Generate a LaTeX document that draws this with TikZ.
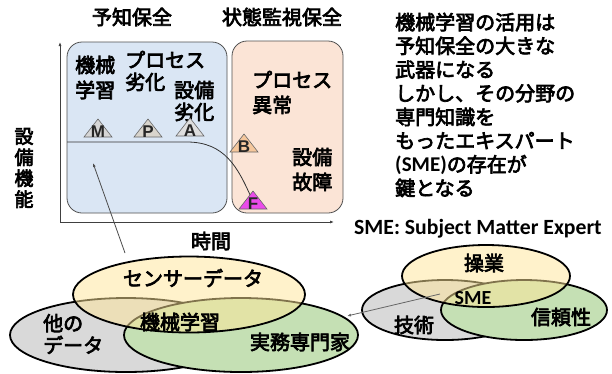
\documentclass[tikz,border=0pt]{standalone}
\usepackage{fontspec}
\newfontfamily\jp{Noto Sans CJK JP}[FakeBold=3.5]
\newfontfamily\lat{Carlito}
\newfontfamily\tril{Liberation Sans}
\usetikzlibrary{arrows.meta}
\definecolor{boxblue}{HTML}{DAE6F4}
\definecolor{boxorange}{HTML}{FBE4D6}
\definecolor{vyellow}{HTML}{FFE699}
\definecolor{vgray}{HTML}{D9D9D9}
\definecolor{vgreen}{HTML}{C5E0B4}
\definecolor{fmag}{HTML}{EA4AEA}
\definecolor{borange}{HTML}{F5C79C}
\definecolor{mgray}{HTML}{D6D6D6}
\definecolor{pgray}{HTML}{D8D4CC}
\definecolor{agray}{HTML}{DEDEDE}
\definecolor{edge}{HTML}{505050}
\newcommand{\mytri}[5]{%
  \filldraw[fill=#4, draw=gray!80!black, line width=0.6pt] ({#2-14},#3) -- (#2,{#3-18}) -- ({#2+14},#3) -- cycle;
  \node[triletter] (#1) at (#2,{#3-5.5}) {#5};}
\tikzset{
  jt/.style={font=\jp\fontsize{20}{25}\selectfont, inner sep=0pt, align=left},
  jtc/.style={font=\jp\fontsize{20}{25}\selectfont, inner sep=0pt, align=center},
  triletter/.style={font=\tril\bfseries\fontsize{17}{17}\selectfont, inner sep=0pt, text=black!85},
  regionbox/.style={draw=edge, line width=0.8pt, rounded corners=15pt},
  axisline/.style={draw=black!75, line width=0.8pt},
  vline/.style={draw=black, line width=1.8pt},
  pointer/.style={draw=black!70, line width=0.8pt, -{Latex[length=4pt,width=3pt]}},
}
\begin{document}
\begin{tikzpicture}[x=1pt,y=-1pt]
\useasboundingbox (0,0) rectangle (612,373);
\fill[white] (0,0) rectangle (612,373);

% titles
\node[jtc] (t1) at (132,17) {予知保全};
\node[jtc] (t2) at (282,17) {状態監視保全};

% region boxes
\draw[regionbox, fill=boxblue] (67,42) rectangle (227,213);
\draw[regionbox, fill=boxorange] (232,41) rectangle (343,213);

% axes
\draw[axisline, {Latex[length=4pt,width=3pt]}-{Latex[length=4pt,width=3pt]}] (60,42) -- (60,222) -- (334,222);

% texts in boxes
\node[jt, anchor=west] (ml) at (75,77.5) {機械\\学習};
\node[jt, anchor=west, font=\jp\fontsize{20}{22}\selectfont] (pd) at (125,71) {プロセス\\劣化};
\node[jt, anchor=west, font=\jp\fontsize{20}{22}\selectfont] (sd) at (174,101) {設備\\劣化};
\node[jt, anchor=west] (pa) at (252,92.5) {プロセス\\異常};
\node[jt, anchor=west] (sf) at (292,169.5) {設備\\故障};

% performance curve
\coordinate (c0) at (67,142);
\coordinate (c1) at (187,142);
\coordinate (c2) at (251,197);
\draw[black!80, line width=0.8pt] (c0) -- (c1) .. controls (225,142) and (238,168) .. (c2);

% triangles
\mytri{M}{98}{137}{mgray}{M}
\mytri{P}{148}{137}{pgray}{P}
\mytri{A}{190}{136}{agray}{A}
\mytri{B}{244}{152}{borange}{B}
\mytri{F}{253}{209}{fmag}{F}

% axis labels
\node[jtc, font=\jp\fontsize{19}{21}\selectfont] (yl) at (24,168) {設\\備\\機\\能};
\node[jtc] (xl) at (211,241) {時間};

% right text
\node[jt, anchor=west, font=\jp\fontsize{20}{23.7}\selectfont] (note) at (395,105)
 {機械学習の活用は\\予知保全の大きな\\武器になる\\しかし、その分野の\\専門知識を\\もったエキスパート\\{\lat\bfseries\fontsize{21}{23.7}\selectfont (SME)}の存在が\\鍵となる};
\node[inner sep=0pt, font=\lat\bfseries\fontsize{21.7}{24}\selectfont] (smedef) at (478,228.5) {SME: Subject Matter Expert};

% left venn
\draw[vline, fill=vgray] (126,335) ellipse [x radius=116, y radius=37];
\draw[vline, fill=vgreen] (241,335) ellipse [x radius=117, y radius=37];
\fill[vyellow, fill opacity=0.5] (189,294.5) ellipse [x radius=116, y radius=38];
\draw[vline] (189,294.5) ellipse [x radius=116, y radius=38];
\node[jtc] (sd2) at (193,278) {センサーデータ};
\node[jt, anchor=west, font=\jp\fontsize{20}{22}\selectfont] (od) at (43,334) {他の\\データ};
\node[jtc] (mlc) at (180,322) {機械学習};
\node[jtc] (exp) at (300,342) {実務専門家};

% pointer from venn to chart
\coordinate (pstart) at (125,253);
\coordinate (ptip) at (93,163);
\draw[pointer] (pstart) -- (ptip);

% right venn
\draw[vline, fill=vgray] (445,310) ellipse [x radius=83, y radius=30];
\draw[vline, fill=vgreen] (524,310) ellipse [x radius=83, y radius=30];
\fill[vyellow, fill opacity=0.5] (486,276) ellipse [x radius=84, y radius=31];
\draw[vline] (486,276) ellipse [x radius=84, y radius=31];
\node[jtc] (op) at (484,263) {操業};
\node[jtc] (tech) at (414,325) {技術};
\node[jtc] (rel) at (561,317) {信頼性};
\node[inner sep=0pt, font=\lat\bfseries\fontsize{20}{20}\selectfont] (sme) at (473,298) {SME};

% arrow SME -> left venn
\coordinate (smeA) at (440,294);
\coordinate (expA) at (347,316);
\draw[pointer, draw=black!60] (smeA) -- (expA);
\end{tikzpicture}
\end{document}
